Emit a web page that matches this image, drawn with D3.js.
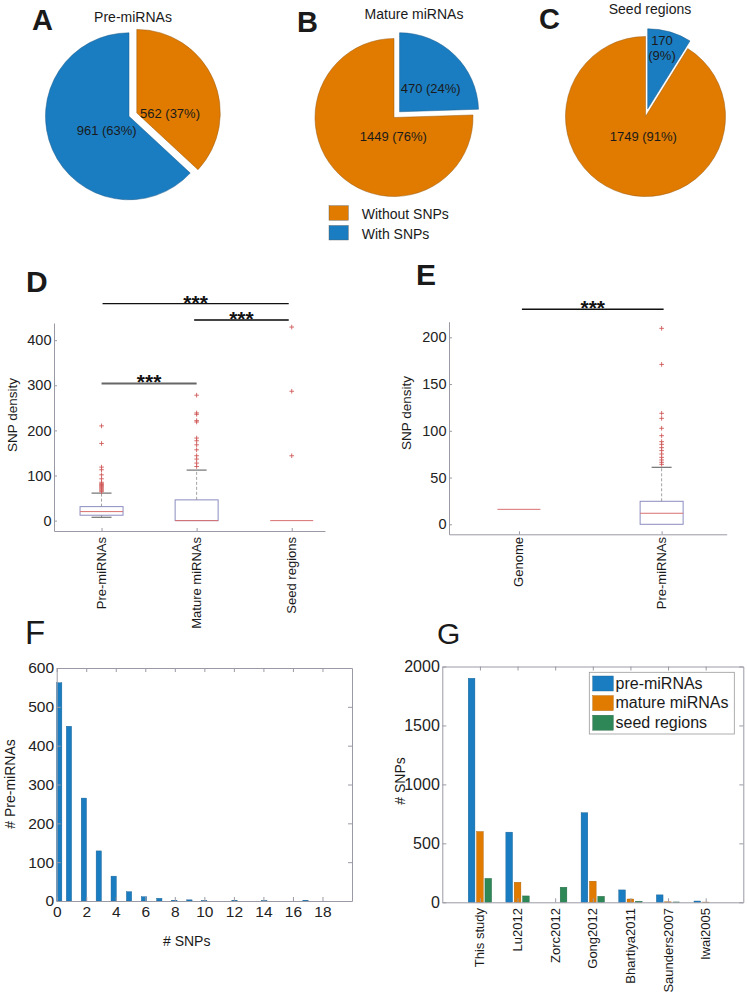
<!DOCTYPE html>
<html><head><meta charset="utf-8">
<script src="https://cdn.jsdelivr.net/npm/d3@7"></script>
<style>
body{margin:0;background:#fff}
svg text{font-family:"Liberation Sans",Arial,Helvetica,sans-serif}
</style>
</head><body>
<svg id="c" width="748" height="1003"></svg>
<script>
// ---------------- DATA ----------------
const pieGroups = ["Without SNPs", "With SNPs"];
const preMiRNACounts = [562, 961];     // without, with
const matureMiRNACounts = [1449, 470];
const seedRegionCounts = [1749, 170];

const boxCatsD = ["Pre-miRNAs", "Mature miRNAs", "Seed regions"];
const dLowWhisker = [7.5, 0, 0];
const dQ1 = [12, 0, 0];
const dMedian = [20, 0, 0];
const dQ3 = [31, 46, 0];
const dHighWhisker = [61, 112, 0];
const dOutliers = [
  [210, 171, 118.6, 112.7, 101.5, 92.7, 85, 82, 80, 78, 76, 74, 72, 70, 68, 66, 64],
  [278, 238.6, 235.6, 221.6, 218.6, 183, 177, 168, 157, 143.8, 136.4, 127.5, 120],
  [429, 286.7, 143.8]
];

const boxCatsE = ["Genome", "Pre-miRNAs"];
const eLowWhisker = [16, 0];
const eQ1 = [16, 0];
const eMedian = [16, 11.8];
const eQ3 = [16, 24.6];
const eHighWhisker = [16, 61];
const eOutliers = [
  [],
  [209.6, 171, 118.7, 113.3, 102.7, 94.8, 88.4, 85.5, 82, 78.8, 75.2, 71.6, 68.8, 66.3, 64.1]
];

const fSnpCounts = [0, 1, 2, 3, 4, 5, 6, 7, 8, 9, 10, 12, 14, 17];
const fBinCenters = [0.17, 0.83, 1.84, 2.85, 3.86, 4.9, 5.91, 6.95, 7.97, 8.99, 9.99, 12.04, 14.06, 16.85];
const fPreMiRNAs = [562, 450, 265, 129, 64, 24, 11, 7, 2, 3, 1, 2, 1, 2];
const fXTicks = [0, 2, 4, 6, 8, 10, 12, 14, 16, 18];
const fYTicks = [0, 100, 200, 300, 400, 500, 600];

const gStudies = ["This study", "Lu2012", "Zorc2012", "Gong2012", "Bhartiya2011", "Saunders2007", "Iwai2005"];
const gSeries = ["pre-miRNAs", "mature miRNAs", "seed regions"];
const gPre = [1900, 595, 0, 760, 105, 63, 11];
const gMature = [600, 170, 0, 179, 28, 4, 2];
const gSeed = [203, 54, 128, 51, 9, 3, 0];
const gYTicks = [0, 500, 1000, 1500, 2000];

// ---------------- STYLE ----------------
const BLUE = "#1b7dc1", ORANGE = "#e07b00", GREEN = "#2e8757";
const AX = "#9a9aa6", TXT = "#1a1a1a";
const svg = d3.select("#c");

function txt(x, y, s, o = {}) {
  const t = svg.append("text").attr("x", x).attr("y", y).text(s)
    .attr("fill", o.fill || TXT).attr("font-size", o.size || 13)
    .attr("text-anchor", o.anchor || "middle");
  if (o.weight) t.attr("font-weight", o.weight);
  if (o.dy) t.attr("dy", o.dy);
  return t;
}
function vtxt(x, y, s, o = {}) {
  return svg.append("text").attr("transform", `translate(${x},${y}) rotate(-90)`).text(s)
    .attr("fill", o.fill || TXT).attr("font-size", o.size || 13)
    .attr("text-anchor", o.anchor || "middle").attr("dy", o.dy || null);
}

// ---------------- PIES ----------------
function pct(v, arr) { return Math.round(100 * v / d3.sum(arr)) + "%"; }
function drawPie(cfg) {
  const items = cfg.order.map(i => ({ i, value: cfg.values[i] }));
  const arcs = d3.pie().sort(null).value(d => d.value)(items);
  const arc = d3.arc().innerRadius(0).outerRadius(cfg.r);
  const g = svg.append("g").attr("transform", `translate(${cfg.cx},${cfg.cy})`);
  arcs.forEach(a => {
    let dx = 0, dy = 0;
    if (a.data.i === cfg.explode) {
      const m = (a.startAngle + a.endAngle) / 2;
      dx = Math.sin(m) * cfg.off; dy = -Math.cos(m) * cfg.off;
    }
    g.append("path").attr("d", arc(a)).attr("transform", `translate(${dx},${dy})`)
      .attr("fill", a.data.i === 0 ? ORANGE : BLUE)
      .attr("stroke", a.data.i === 0 ? "#9a5a10" : "#1a5a8a").attr("stroke-width", 0.5);
  });
  cfg.labels.forEach(L => {
    const v = cfg.values[L.i];
    const s = v + " (" + pct(v, cfg.values) + ")";
    if (L.split) {
      txt(cfg.cx + L.dx, cfg.cy + L.dy, String(v), { dy: "0.35em" });
      txt(cfg.cx + L.dx, cfg.cy + L.dy + 15, "(" + pct(v, cfg.values) + ")", { dy: "0.35em" });
    } else txt(cfg.cx + L.dx, cfg.cy + L.dy, s, { dy: "0.35em" });
  });
  txt(cfg.tx, cfg.ty, cfg.title, { size: 14 });
  txt(cfg.lx, cfg.ly, cfg.letter, { size: 29, weight: "bold", anchor: "start" });
}
drawPie({ cx: 129, cy: 116.3, r: 83.5, off: 8.5, values: preMiRNACounts, order: [0, 1], explode: 0,
  labels: [{ i: 0, dx: 41, dy: -3 }, { i: 1, dx: -22.3, dy: 13.7 }],
  title: "Pre-miRNAs", tx: 133, ty: 21.5, letter: "A", lx: 32, ly: 30 });
drawPie({ cx: 394, cy: 117.5, r: 79, off: 8, values: matureMiRNACounts, order: [1, 0], explode: 1,
  labels: [{ i: 1, dx: 36.7, dy: -29.2 }, { i: 0, dx: -0.7, dy: 19.2 }],
  title: "Mature miRNAs", tx: 414, ty: 18.5, letter: "B", lx: 297, ly: 31.5 });
drawPie({ cx: 645.5, cy: 116.5, r: 80, off: 8, values: seedRegionCounts, order: [1, 0], explode: 1,
  labels: [{ i: 1, dx: 16.5, dy: -76.5, split: true }, { i: 0, dx: -2.2, dy: 20.2 }],
  title: "Seed regions", tx: 650, ty: 13.5, letter: "C", lx: 539, ly: 28.5 });

// pie legend
[0, 1].forEach(k => {
  const y0 = 205.7 + k * 19.8;
  svg.append("rect").attr("x", 329).attr("y", y0).attr("width", 19.3).attr("height", 14.5)
    .attr("fill", k === 0 ? ORANGE : BLUE).attr("stroke", "#555").attr("stroke-width", 0.4);
  txt(361.7, y0 + 13.5, pieGroups[k], { size: 14, anchor: "start" });
});

// ---------------- BOX PLOTS ----------------
function drawBoxes(o) {
  const x = d3.scaleLinear().domain(o.xdom).range([o.x0, o.x1]);
  const y = d3.scaleLinear().domain(o.ydom).range([o.y1, o.y0]);
  const ay = svg.append("g").attr("transform", `translate(${o.x0},0)`)
    .call(d3.axisLeft(y).tickValues(o.yticks).tickSizeInner(-3).tickSizeOuter(0).tickPadding(2.5));
  const ax = svg.append("g").attr("transform", `translate(0,${o.y1})`)
    .call(d3.axisBottom(x).tickValues(o.cats.map((c, i) => i + 1)).tickSizeInner(-3).tickSizeOuter(0).tickFormat(""));
  [ay, ax].forEach(a => {
    a.selectAll("path,line").attr("stroke", AX);
    a.selectAll("text").attr("font-size", 14.5).attr("fill", "#222");
  });
  o.cats.forEach((c, i) => {
    const cx = x(i + 1), hw = o.boxW / 2, cw = o.capW / 2;
    const g = svg.append("g");
    if (o.q3[i] > o.q1[i])
      g.append("rect").attr("x", cx - hw).attr("y", y(o.q3[i])).attr("width", o.boxW)
        .attr("height", y(o.q1[i]) - y(o.q3[i])).attr("fill", "none").attr("stroke", "#8c8cc0").attr("stroke-width", 1);
    if (o.hi[i] > o.q3[i]) {
      g.append("line").attr("x1", cx).attr("x2", cx).attr("y1", y(o.q3[i])).attr("y2", y(o.hi[i]))
        .attr("stroke", "#8a8a8a").attr("stroke-dasharray", "3,2").attr("stroke-width", 0.8);
      g.append("line").attr("x1", cx - cw).attr("x2", cx + cw).attr("y1", y(o.hi[i])).attr("y2", y(o.hi[i]))
        .attr("stroke", "#555").attr("stroke-width", 1);
    }
    if (o.lo[i] < o.q1[i]) {
      g.append("line").attr("x1", cx).attr("x2", cx).attr("y1", y(o.q1[i])).attr("y2", y(o.lo[i]))
        .attr("stroke", "#8a8a8a").attr("stroke-dasharray", "3,2").attr("stroke-width", 0.8);
      g.append("line").attr("x1", cx - cw).attr("x2", cx + cw).attr("y1", y(o.lo[i])).attr("y2", y(o.lo[i]))
        .attr("stroke", "#555").attr("stroke-width", 1);
    }
    g.append("line").attr("x1", cx - hw).attr("x2", cx + hw).attr("y1", y(o.med[i])).attr("y2", y(o.med[i]))
      .attr("stroke", "#d87070").attr("stroke-width", 1);
    o.out[i].forEach(v => {
      const py = y(v);
      g.append("path").attr("d", `M${cx - 2.3},${py}H${cx + 2.3}M${cx},${py - 2.3}V${py + 2.3}`)
        .attr("stroke", "#d05a5a").attr("stroke-width", 0.9).attr("fill", "none");
    });
    vtxt(cx, o.labY, c, { anchor: "end", dy: "0.35em", size: 13 });
  });
  o.sig.forEach(s => {
    const xa = x(s.a) + (s.da || 0), xb = x(s.b) + (s.db || 0), yy = y(s.v);
    svg.append("line").attr("x1", xa).attr("x2", xb).attr("y1", yy).attr("y2", yy)
      .attr("stroke", s.col).attr("stroke-width", s.w);
    txt((xa + xb) / 2, yy + 6, "***", { size: 21, weight: "bold", fill: "#111" });
  });
  vtxt(o.ylabX, o.ylabY, o.ylab, { size: 13.5 });
  txt(o.lx, o.ly, o.letter, { size: 30, weight: "bold", anchor: "start" });
}

drawBoxes({ cats: boxCatsD, xdom: [0.5, 3.35], x0: 54, x1: 325, ydom: [-23, 438], y0: 323, y1: 531,
  yticks: [0, 100, 200, 300, 400], boxW: 43, capW: 20,
  lo: dLowWhisker, q1: dQ1, med: dMedian, q3: dQ3, hi: dHighWhisker, out: dOutliers, labY: 537,
  sig: [{ a: 1, b: 3, v: 481, col: "#111", w: 1.4, da: 1, db: -3 },
        { a: 2, b: 3, v: 444.7, col: "#444", w: 2, da: -2.5, db: -3 },
        { a: 1, b: 2, v: 304, col: "#666", w: 2 }],
  ylab: "SNP density", ylabX: 16.5, ylabY: 415, letter: "D", lx: 26, ly: 291.5 });

drawBoxes({ cats: boxCatsE, xdom: [0.51, 2.456], x0: 449, x1: 726.7, ydom: [-10.7, 216.7], y0: 321.7, y1: 534.3,
  yticks: [0, 50, 100, 150, 200], boxW: 43, capW: 20,
  lo: eLowWhisker, q1: eQ1, med: eMedian, q3: eQ3, hi: eHighWhisker, out: eOutliers, labY: 537,
  sig: [{ a: 1, b: 2, v: 230, col: "#111", w: 1.4, da: 3, db: 2 }],
  ylab: "SNP density", ylabX: 411, ylabY: 413, letter: "E", lx: 416, ly: 285 });

// ---------------- FRAME HELPER ----------------
function frame(x, y, xt, yt, fs, pad, xfmt) {
  const [X0, X1] = x.range(), [Y1, Y0] = y.range();
  const gs = [
    svg.append("g").attr("transform", `translate(${X0},0)`).call(d3.axisLeft(y).tickValues(yt).tickSizeInner(-4).tickSizeOuter(0).tickPadding(pad).tickFormat(d3.format("d"))),
    svg.append("g").attr("transform", `translate(${X1},0)`).call(d3.axisRight(y).tickValues(yt).tickSizeInner(-4).tickSizeOuter(0).tickFormat("")),
    svg.append("g").attr("transform", `translate(0,${Y0})`).call(d3.axisTop(x).tickValues(xt).tickSizeInner(-4).tickSizeOuter(0).tickFormat("")),
    svg.append("g").attr("transform", `translate(0,${Y1})`).call(d3.axisBottom(x).tickValues(xt).tickSizeInner(-4).tickSizeOuter(0).tickPadding(5).tickFormat(xfmt))
  ];
  gs.forEach(g => {
    g.selectAll("path,line").attr("stroke", AX);
    g.selectAll("text").attr("font-size", fs).attr("fill", "#222");
  });
  return gs;
}

// ---------------- F ----------------
{
  const x = d3.scaleLinear().domain([0, 20]).range([56.7, 352]);
  const y = d3.scaleLinear().domain([0, 600]).range([901, 668]);
  const bw = x(0.36) - x(0);
  svg.append("g").selectAll("rect").data(fPreMiRNAs).join("rect")
    .attr("x", (d, i) => x(fBinCenters[i]) - bw / 2).attr("width", bw)
    .attr("y", d => y(d)).attr("height", d => y(0) - y(d))
    .attr("fill", BLUE).attr("stroke", "#1a5f90").attr("stroke-width", 0.4);
  frame(x, y, fXTicks, fYTicks, 15.5, 2.7, d3.format("d"));
  txt(186.7, 946, "# SNPs", { size: 14 });
  vtxt(15, 784, "# Pre-miRNAs", { size: 14 });
  txt(25, 644, "F", { size: 33, anchor: "start" });
}

// ---------------- G ----------------
{
  const x = d3.scaleLinear().domain([0, 8]).range([442.3, 743.3]);
  const y = d3.scaleLinear().domain([0, 2000]).range([902.3, 666.5]);
  const series = [gPre, gMature, gSeed], cols = [BLUE, ORANGE, GREEN];
  const bw = x(0.178) - x(0), off = 0.222;
  series.forEach((s, k) => {
    svg.append("g").selectAll("rect").data(s).join("rect")
      .attr("x", (d, i) => x(i + 1 + (k - 1) * off) - bw / 2).attr("width", bw)
      .attr("y", d => y(d)).attr("height", d => y(0) - y(d))
      .attr("fill", cols[k]).attr("stroke", d3.color(cols[k]).darker(0.8)).attr("stroke-width", 0.4);
  });
  frame(x, y, gStudies.map((s, i) => i + 1), gYTicks, 16, 2.5, "");
  gStudies.forEach((s, i) => vtxt(x(i + 1), 908, s, { anchor: "end", dy: "0.35em", size: 13 }));
  vtxt(405, 781, "# SNPs", { size: 14 });
  txt(437, 644, "G", { size: 30, anchor: "start" });
  svg.append("rect").attr("x", 589.3).attr("y", 672.3).attr("width", 145).attr("height", 61.7)
    .attr("fill", "#fff").attr("stroke", "#999").attr("stroke-width", 0.8);
  gSeries.forEach((s, k) => {
    const y0 = 676 + k * 19.6;
    svg.append("rect").attr("x", 592.7).attr("y", y0).attr("width", 20.6).attr("height", 15)
      .attr("fill", cols[k]).attr("stroke", d3.color(cols[k]).darker(0.8)).attr("stroke-width", 0.4);
    txt(615.5, y0 + 12.5, s, { size: 16, anchor: "start" });
  });
}
</script>
</body></html>
